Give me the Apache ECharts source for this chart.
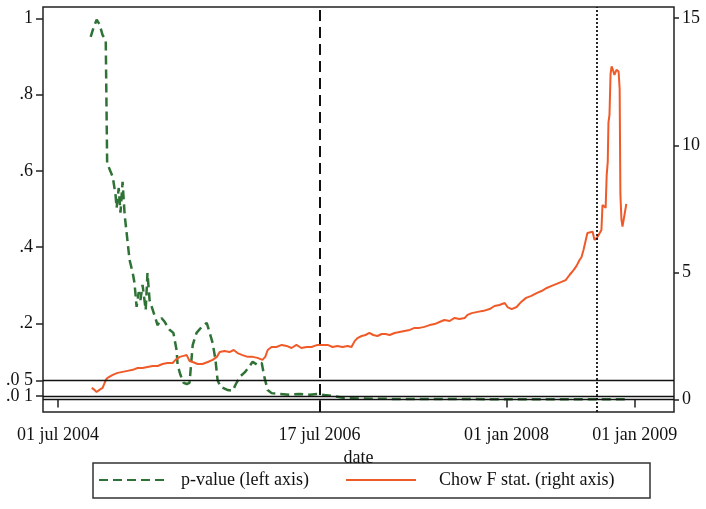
<!DOCTYPE html>
<html>
<head>
<meta charset="utf-8">
<script src="https://cdn.jsdelivr.net/npm/echarts@6/dist/echarts.min.js"></script>
<style>
html,body{margin:0;padding:0;background:#fff;}
#chart{width:706px;height:509px;}
</style>
</head>
<body>
<div id="chart"></div>
<script>
// ---- data ----
const xTickDates = ['2004-07-01', '2006-07-17', '2008-01-01', '2009-01-01'];
const xTickLabels = ['01 jul 2004', '17 jul 2006', '01 jan 2008', '01 jan 2009'];
const leftTickValues = [1, 0.8, 0.6, 0.4, 0.2, 0.01];
const leftTickLabels = ['1', '.8', '.6', '.4', '.2', '.0 1'];
const leftExtraTickValues = [0.05];
const leftExtraTickLabels = ['.0 5'];
const rightTickValues = [0, 5, 10, 15];
const rightTickLabels = ['0', '5', '10', '15'];
const pLineValues = [0.05, 0.01, 0];
const eventDates = ['2006-07-17', '2008-09-15'];

const pDates = ['2004-10-02','2004-10-10','2004-10-19','2004-10-27','2004-11-05','2004-11-14','2004-11-18','2004-12-04','2004-12-12','2004-12-15','2004-12-21','2004-12-26','2005-01-01','2005-01-07','2005-01-21','2005-01-30','2005-02-04','2005-02-10','2005-02-16','2005-02-21','2005-02-27','2005-03-08','2005-03-13','2005-03-19','2005-03-31','2005-04-11','2005-04-22','2005-05-01','2005-05-15','2005-05-26','2005-06-04','2005-06-07','2005-06-15','2005-06-24','2005-07-03','2005-07-11','2005-07-20','2005-07-31','2005-08-14','2005-08-29','2005-09-06','2005-09-15','2005-09-23','2005-09-29','2005-10-08','2005-10-16','2005-10-28','2005-11-11','2005-11-22','2005-12-04','2005-12-16','2005-12-27','2006-01-07','2006-01-21','2006-02-02','2006-02-10','2006-02-19','2006-03-02','2006-03-25','2006-04-22','2006-05-21','2006-06-18','2006-07-11','2006-07-31','2006-08-29','2006-09-26','2006-11-08','2007-03-02','2007-07-23','2007-12-13','2008-05-03','2008-09-23','2008-12-08'];
const pValues = [0.951,0.975,0.996,0.985,0.956,0.943,0.62,0.584,0.536,0.503,0.555,0.49,0.571,0.484,0.366,0.332,0.306,0.243,0.282,0.261,0.301,0.235,0.332,0.261,0.227,0.195,0.214,0.204,0.183,0.175,0.13,0.091,0.065,0.044,0.041,0.044,0.143,0.175,0.19,0.201,0.177,0.148,0.104,0.051,0.033,0.03,0.025,0.023,0.044,0.062,0.072,0.085,0.099,0.091,0.096,0.057,0.025,0.017,0.015,0.013,0.015,0.013,0.015,0.012,0.009,0.004,0.003,0.0016,0.0016,0.001,0.001,0.0008,0.0008];

const fDates = ['2004-10-05','2004-10-13','2004-10-19','2004-10-27','2004-11-05','2004-11-14','2004-11-19','2004-12-04','2004-12-18','2005-01-01','2005-01-15','2005-01-30','2005-02-13','2005-02-27','2005-03-13','2005-03-28','2005-04-11','2005-04-25','2005-05-09','2005-05-24','2005-06-01','2005-06-13','2005-06-24','2005-07-03','2005-07-11','2005-07-20','2005-08-03','2005-08-17','2005-09-01','2005-09-15','2005-09-27','2005-10-05','2005-10-19','2005-11-02','2005-11-14','2005-11-25','2005-12-09','2005-12-24','2006-01-07','2006-01-21','2006-02-04','2006-02-12','2006-02-19','2006-03-02','2006-03-16','2006-03-31','2006-04-14','2006-04-28','2006-05-12','2006-05-26','2006-06-10','2006-06-24','2006-07-11','2006-07-25','2006-08-09','2006-08-23','2006-09-06','2006-09-20','2006-10-05','2006-10-16','2006-10-25','2006-11-02','2006-11-14','2006-11-25','2006-12-06','2006-12-17','2006-12-29','2007-01-10','2007-01-21','2007-02-02','2007-02-16','2007-03-02','2007-03-16','2007-03-31','2007-04-14','2007-04-28','2007-05-12','2007-05-27','2007-06-10','2007-06-24','2007-07-08','2007-07-23','2007-08-06','2007-08-20','2007-09-04','2007-09-12','2007-09-24','2007-10-11','2007-10-28','2007-11-14','2007-11-28','2007-12-12','2007-12-27','2008-01-04','2008-01-16','2008-01-30','2008-02-12','2008-02-26','2008-03-12','2008-03-27','2008-04-10','2008-04-25','2008-05-09','2008-05-23','2008-06-06','2008-06-18','2008-06-29','2008-07-11','2008-07-19','2008-07-28','2008-08-02','2008-08-08','2008-08-19','2008-09-03','2008-09-08','2008-09-17','2008-09-28','2008-10-01','2008-10-10','2008-10-13','2008-10-16','2008-10-18','2008-10-21','2008-10-24','2008-10-27','2008-10-30','2008-11-04','2008-11-10','2008-11-16','2008-11-19','2008-11-21','2008-11-24','2008-11-27','2008-12-02','2008-12-08'];
const fValues = [0.46,0.38,0.3,0.38,0.46,0.77,0.85,0.97,1.05,1.09,1.13,1.17,1.24,1.24,1.28,1.32,1.32,1.4,1.44,1.44,1.56,1.68,1.72,1.75,1.52,1.48,1.4,1.4,1.48,1.56,1.68,1.87,1.91,1.87,1.95,1.83,1.75,1.68,1.68,1.64,1.56,1.68,1.95,2.07,2.07,2.15,2.11,2.03,2.15,2.03,2.07,2.07,2.15,2.15,2.15,2.07,2.11,2.07,2.11,2.07,2.3,2.42,2.5,2.54,2.62,2.54,2.5,2.58,2.58,2.54,2.62,2.66,2.7,2.74,2.82,2.82,2.86,2.93,2.97,3.05,3.13,3.09,3.21,3.17,3.21,3.33,3.4,3.45,3.49,3.56,3.68,3.72,3.8,3.64,3.56,3.64,3.84,4.0,4.08,4.19,4.27,4.39,4.47,4.55,4.63,4.7,4.9,5.1,5.26,5.5,5.6,5.89,6.55,6.6,6.28,6.4,6.67,7.65,7.54,8.83,9.35,10.9,11.2,12.8,13.1,13.0,12.77,12.97,12.9,12.2,8.1,7.1,6.8,7.2,7.7];

// ---- chart ----
const FONT = '"Liberation Serif", "DejaVu Serif", serif';
const ts = d => echarts.number.parseDate(d).getTime();
const xTickTs = xTickDates.map(ts);
const pData = pDates.map((d, i) => [ts(d), pValues[i]]);
const fData = fDates.map((d, i) => [ts(d), fValues[i]]);
const lookup = (vals, labels, tol) => v => { const i = vals.findIndex(t => Math.abs(t - v) < tol); return i >= 0 ? labels[i] : ''; };
const tickStyle = {color: '#222', width: 1.5};
const labelBase = {fontFamily: FONT, fontSize: 18, color: '#111', showMinLabel: true, showMaxLabel: true, hideOverlap: false};

const chart = echarts.init(document.getElementById('chart'), null, {renderer: 'canvas'});
chart.setOption({
  animation: false,
  backgroundColor: '#ffffff',
  grid: {left: 43, right: 32, top: 7, bottom: 97, show: true, borderColor: '#222', borderWidth: 1.5, backgroundColor: '#ffffff'},
  xAxis: {
    type: 'value',
    min: ts('2004-05-19'), max: ts('2009-04-23'),
    name: 'date', nameLocation: 'middle', nameGap: 35,
    nameTextStyle: {fontFamily: FONT, fontSize: 18, color: '#111'},
    axisLine: {show: false},
    splitLine: {show: false},
    axisTick: {show: true, length: 8, customValues: xTickTs, lineStyle: tickStyle},
    axisLabel: Object.assign({customValues: xTickTs, margin: 14, formatter: lookup(xTickTs, xTickLabels, 86400000)}, labelBase)
  },
  yAxis: [{
    type: 'value', position: 'left', min: -0.0325, max: 1.0296,
    axisLine: {show: false}, splitLine: {show: false},
    axisTick: {show: true, length: 7, customValues: leftTickValues, lineStyle: tickStyle},
    axisLabel: Object.assign({customValues: leftTickValues, margin: 10, formatter: lookup(leftTickValues, leftTickLabels, 1e-6)}, labelBase)
  }, {
    type: 'value', position: 'right', min: -0.488, max: 15.44,
    axisLine: {show: false}, splitLine: {show: false},
    axisTick: {show: true, length: 5, customValues: rightTickValues, lineStyle: tickStyle},
    axisLabel: Object.assign({customValues: rightTickValues, margin: 8, formatter: lookup(rightTickValues, rightTickLabels, 1e-6)}, labelBase)
  }, {
    type: 'value', position: 'left', offset: 0, min: -0.0325, max: 1.0296,
    axisLine: {show: false}, splitLine: {show: false},
    axisTick: {show: true, length: 7, customValues: leftExtraTickValues, lineStyle: tickStyle},
    axisLabel: Object.assign({customValues: leftExtraTickValues, margin: 10, formatter: lookup(leftExtraTickValues, leftExtraTickLabels, 1e-6)}, labelBase)
  }],
  legend: [{
    data: ['p-value (left axis)'], left: 98, top: 471, itemWidth: 65, itemHeight: 20, padding: 0,
    itemStyle: {opacity: 0},
    textStyle: {fontFamily: FONT, fontSize: 18, color: '#111', padding: [0, 0, 0, 12]}
  }, {
    data: ['Chow F stat. (right axis)'], left: 345, top: 471, itemWidth: 70, itemHeight: 20, padding: 0,
    itemStyle: {opacity: 0},
    textStyle: {fontFamily: FONT, fontSize: 18, color: '#111', padding: [0, 0, 0, 18]}
  }],
  graphic: [{
    type: 'rect', silent: true,
    shape: {x: 93, y: 463, width: 557, height: 35},
    style: {fill: 'none', stroke: '#333', lineWidth: 1.5}
  }],
  series: [{
    name: 'p-value (left axis)', type: 'line', yAxisIndex: 0, data: pData,
    symbol: 'none', z: 3,
    lineStyle: {color: '#2e7235', width: 2.5, type: [9, 5]},
    itemStyle: {color: '#2e7235'},
    markLine: {
      silent: true, symbol: 'none', label: {show: false},
      lineStyle: {color: '#111', width: 1.3, type: 'solid'},
      data: pLineValues.map(v => ({yAxis: v}))
    }
  }, {
    name: 'Chow F stat. (right axis)', type: 'line', yAxisIndex: 1, data: fData,
    symbol: 'none', z: 4,
    lineStyle: {color: '#f05a28', width: 2},
    itemStyle: {color: '#f05a28'},
    markLine: {
      silent: true, symbol: 'none', label: {show: false},
      data: [
        {xAxis: ts(eventDates[0]), lineStyle: {color: '#111', width: 2, type: [11, 6]}},
        {xAxis: ts(eventDates[1]), lineStyle: {color: '#111', width: 1.8, type: [2, 2]}}
      ]
    }
  }]
});
</script>
</body>
</html>
